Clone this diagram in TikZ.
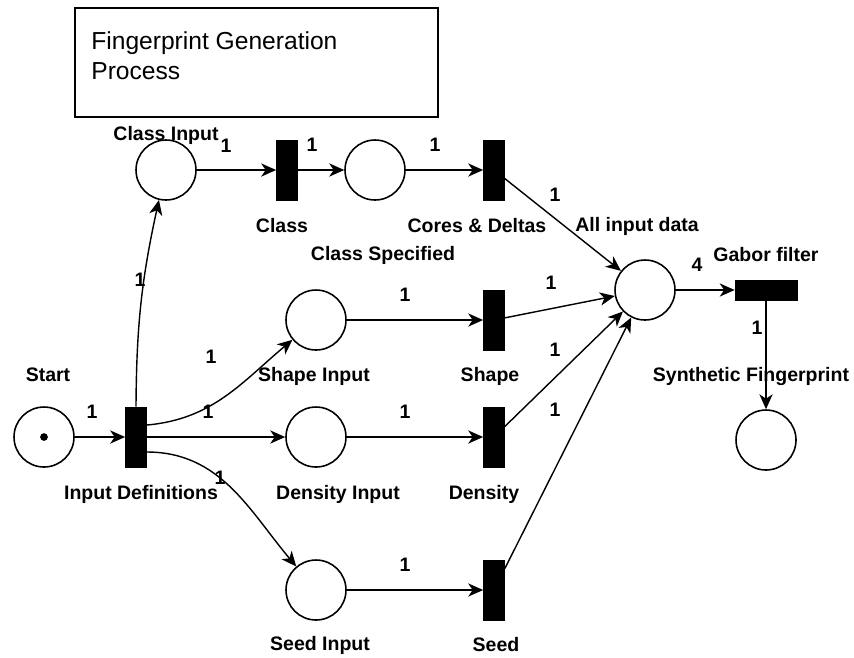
\documentclass[tikz,border=0pt]{standalone}
\usepackage{fontspec}
\setmainfont{Liberation Sans}
\usetikzlibrary{arrows.meta,calc}
\begin{document}
\begin{tikzpicture}[x=0.02cm,y=-0.02cm,
  place/.style={circle,draw,line width=0.9pt,minimum size=1.2cm,inner sep=0pt},
  vbar/.style={rectangle,fill=black,draw=black,minimum width=0.42cm,minimum height=1.2cm,inner sep=0pt},
  hbar/.style={rectangle,fill=black,draw=black,minimum width=1.24cm,minimum height=0.4cm,inner sep=0pt},
  arc/.style={line width=0.8pt,-{Stealth[length=8.5pt,width=7.5pt,inset=2.5pt]}},
  lbl/.style={font=\bfseries\fontsize{11.1}{13}\selectfont,inner sep=0pt},
  wt/.style={font=\bfseries\fontsize{11.1}{13}\selectfont,inner sep=0pt}]
\useasboundingbox (0,0) rectangle (854,657);

% title box
\node[draw,line width=0.9pt,minimum width=7.26cm,minimum height=2.18cm,inner sep=0pt] (title) at (256.5,62.5) {};
\node[anchor=north west,align=left,inner sep=0pt,font=\fontsize{14}{17}\selectfont] (titletext) at (91,31) {Fingerprint Generation\\Process};

% places
\node[place] (start) at (44,437) {};
\fill (start.center) circle (2.2pt);
\node[place] (clsin) at (166,170) {};
\node[place] (clsspec) at (375,170) {};
\node[place] (shapein) at (316,320) {};
\node[place] (densin) at (316,437) {};
\node[place] (seedin) at (316,590) {};
\node[place] (all) at (645,290) {};
\node[place] (synth) at (766,440) {};

% transitions
\node[vbar] (indef) at (136,437) {};
\node[vbar] (cls) at (287,170) {};
\node[vbar] (cores) at (494,170) {};
\node[vbar] (shape) at (494,320) {};
\node[vbar] (dens) at (494,437) {};
\node[vbar] (seed) at (494,590) {};
\node[hbar] (gabor) at (766,290) {};

% node names
\node[lbl] (lstart) at (48,375) {Start};
\node[lbl] (lindef) at (141,494) {Input Definitions};
\node[lbl] (lclsin) at (166,135) {Class Input};
\node[lbl] (lcls) at (282,226) {Class};
\node[lbl] (lcores) at (477,226) {Cores \& Deltas};
\node[lbl] (lclsspec) at (383,255) {Class Specified};
\node[lbl] (lall) at (637,226) {All input data};
\node[lbl] (lgabor) at (766,255) {Gabor filter};
\node[lbl] (lsynth) at (751,376) {Synthetic Fingerprint};
\node[lbl] (lshapein) at (314,376) {Shape Input};
\node[lbl] (lshape) at (490,376) {Shape};
\node[lbl] (ldensin) at (338,494) {Density Input};
\node[lbl] (ldens) at (484,494) {Density};
\node[lbl] (lseedin) at (320,645) {Seed Input};
\node[lbl] (lseed) at (496,645) {Seed};

% arc weights
\node[wt] (w1) at (92,412) {1};
\node[wt] (w2) at (140,280) {1};
\node[wt] (w3) at (211,357) {1};
\node[wt] (w4) at (208,412) {1};
\node[wt] (w5) at (220,478) {1};
\node[wt] (w6) at (226,146) {1};
\node[wt] (w7) at (312,145) {1};
\node[wt] (w8) at (435,145) {1};
\node[wt] (w9) at (405,295) {1};
\node[wt] (w10) at (405,412) {1};
\node[wt] (w11) at (405,565) {1};
\node[wt] (w12) at (555,195) {1};
\node[wt] (w13) at (551,283) {1};
\node[wt] (w14) at (555,350) {1};
\node[wt] (w15) at (555,410) {1};
\node[wt] (w16) at (697,265) {4};
\node[wt] (w17) at (757,328) {1};

% arcs
\draw[arc] (start) -- (indef);
\draw[arc] (indef.north) to[bend left=6] (clsin);
\draw[arc] ($(indef.east)+(0,-12)$) to[out=5,in=220] (shapein);
\draw[arc] (indef.east) -- (densin);
\draw[arc] ($(indef.east)+(0,15)$) to[out=0,in=130] (seedin);
\draw[arc] (clsin) -- (cls);
\draw[arc] (cls) -- (clsspec);
\draw[arc] (clsspec) -- (cores);
\draw[arc] (shapein) -- (shape);
\draw[arc] (densin) -- (dens);
\draw[arc] (seedin) -- (seed);
\draw[arc] (cores) -- (all);
\draw[arc] (shape) -- (all);
\draw[arc] (dens) -- (all);
\draw[arc] (seed) -- (all);
\draw[arc] (all) -- (gabor);
\draw[arc] (gabor) -- (synth);
\end{tikzpicture}
\end{document}
